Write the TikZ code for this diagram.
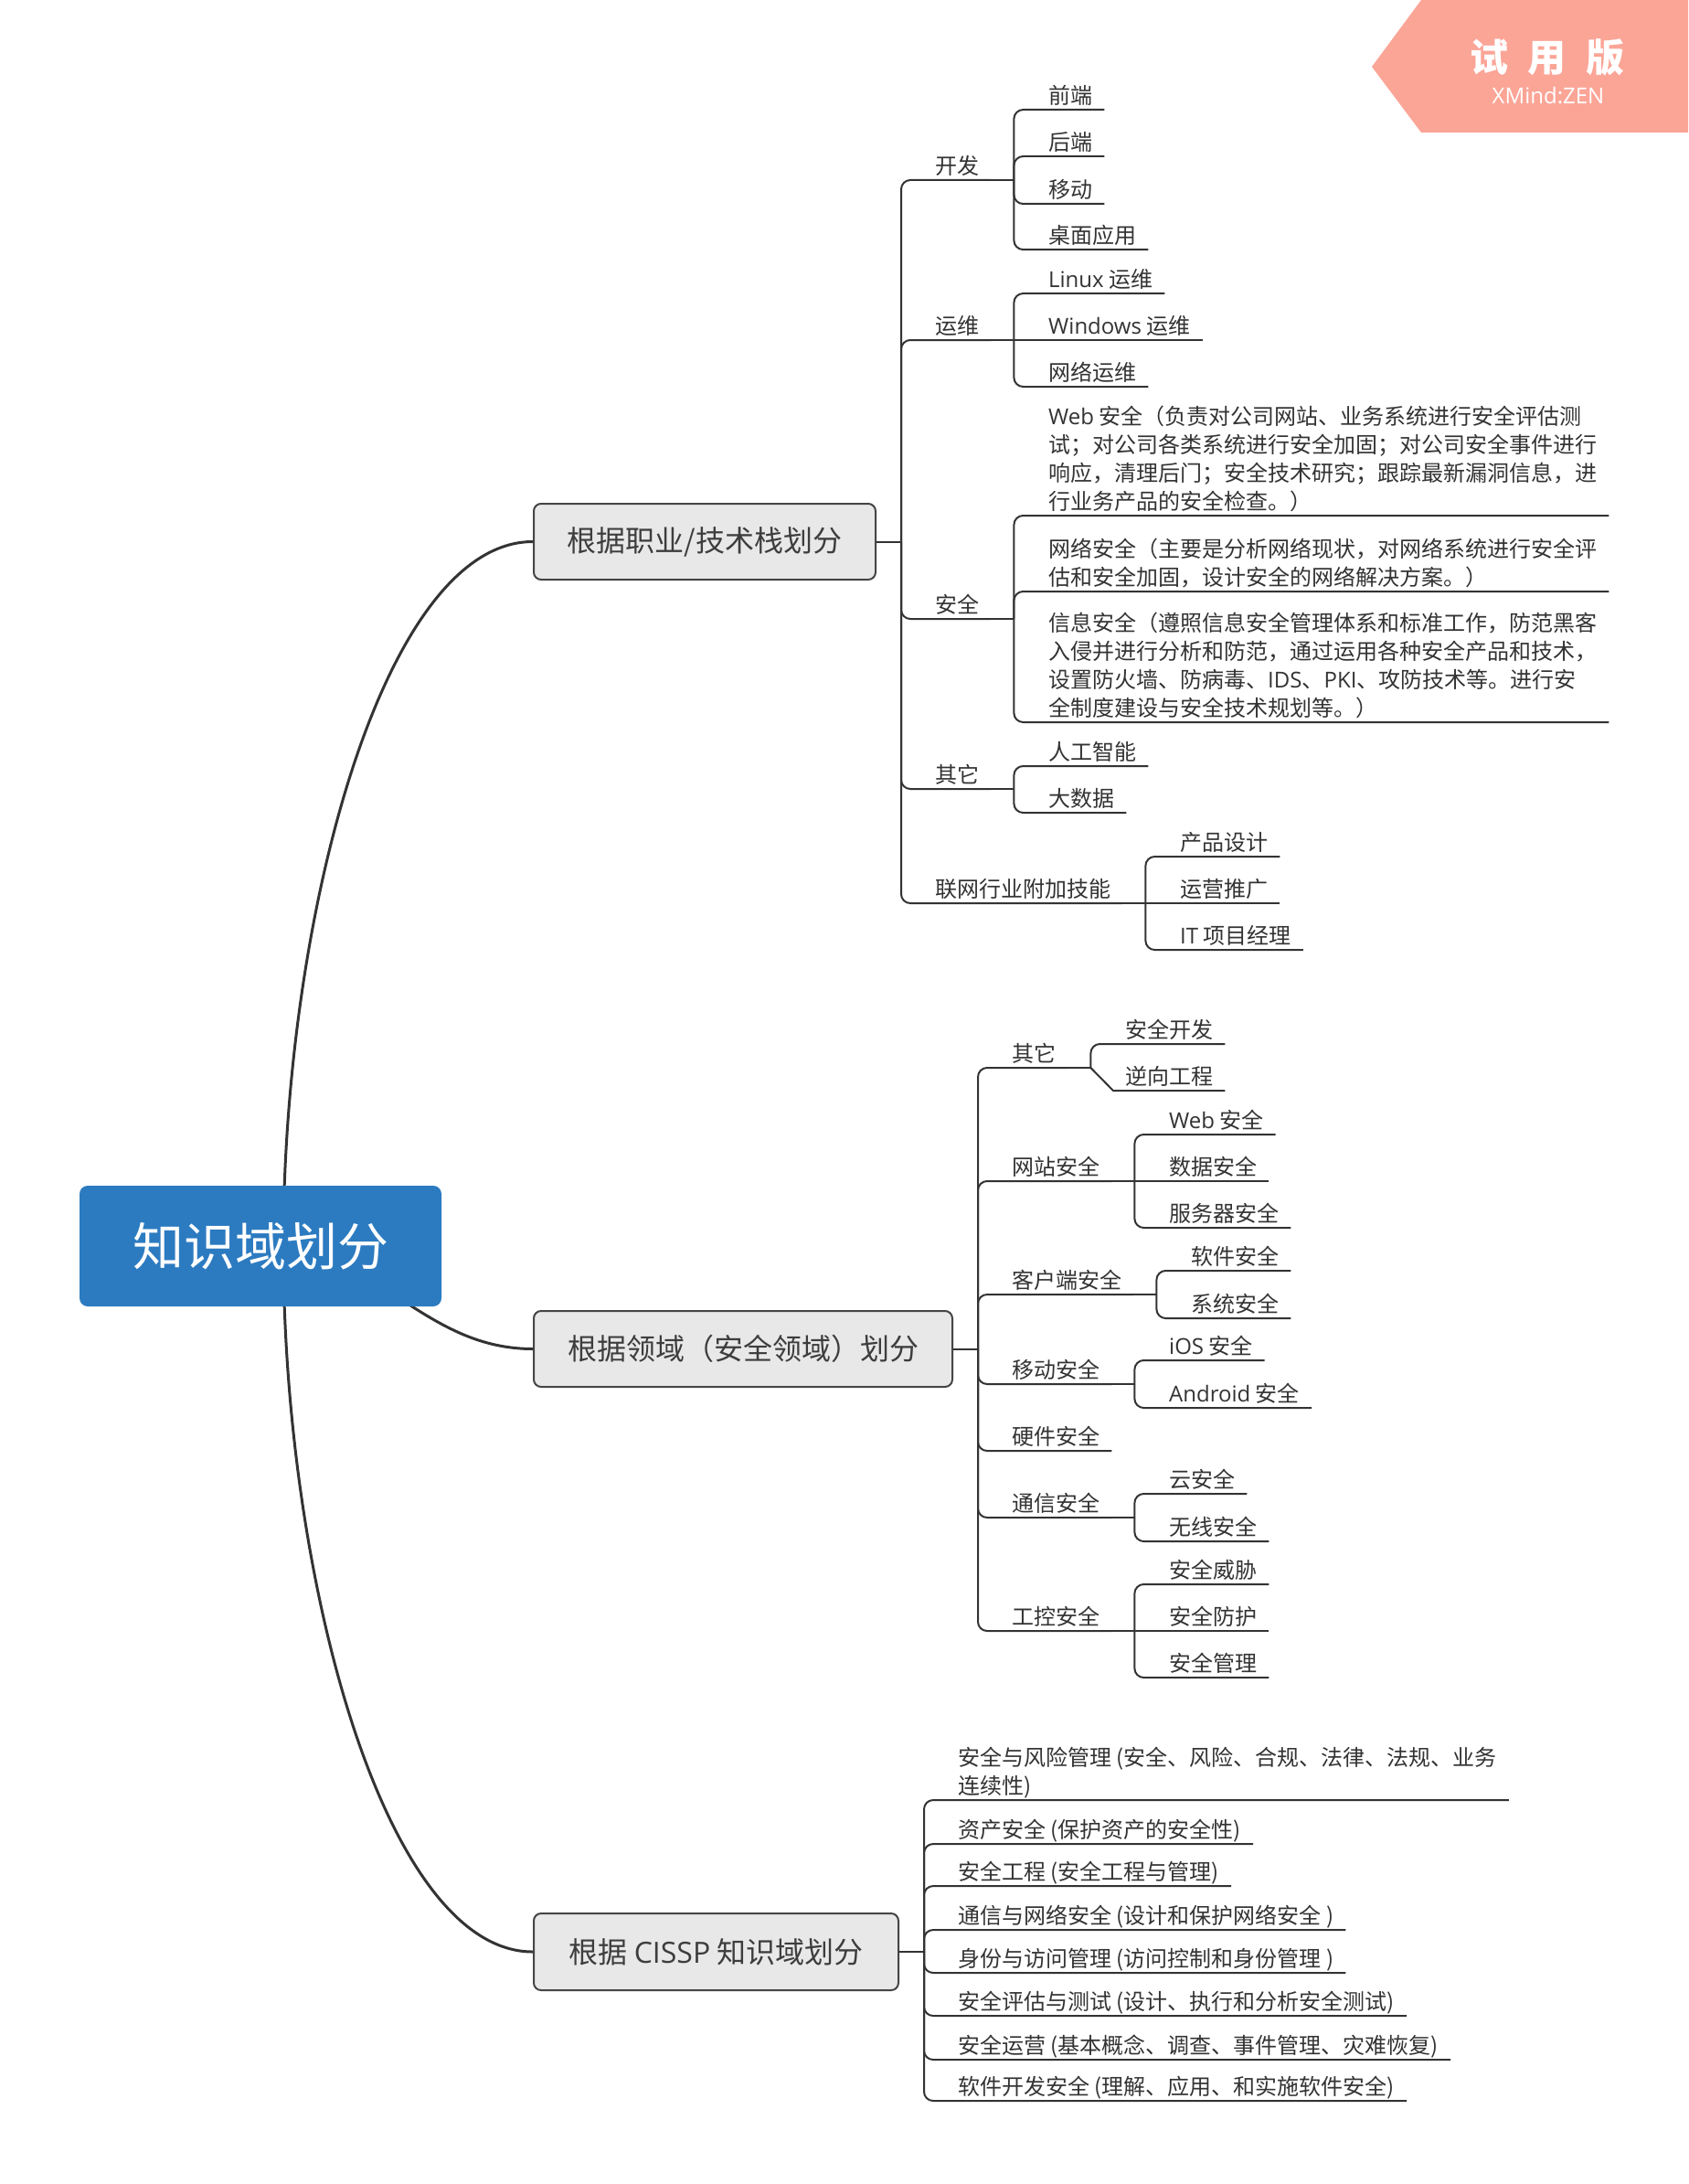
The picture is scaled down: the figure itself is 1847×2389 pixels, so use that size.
\documentclass[tikz,border=0pt]{standalone}
\usepackage{fontspec}
\setmainfont{Noto Sans CJK SC}
\newfontfamily\latinface{Open Sans}
\usetikzlibrary{backgrounds}

\definecolor{ink}{HTML}{333333}
\definecolor{boxtext}{HTML}{3D3D3D}
\definecolor{boxfill}{HTML}{E8E8E8}
\definecolor{boxline}{HTML}{454545}
\definecolor{rootblue}{HTML}{2C7BC1}
\definecolor{trialpink}{HTML}{FBA597}

\newcommand\en[1]{{\latinface #1}}
\newcommand\linestrut{\rule[-6pt]{0pt}{18pt}}

\tikzset{
  topic/.style={anchor=south west, inner xsep=13pt, inner ysep=0pt,
    font=\fontsize{24}{31}\selectfont, text=ink, align=left,
    execute at end node=\linestrut},
  elbow/.style={draw=ink, line width=2pt, rounded corners=10pt},
  stem/.style={draw=ink, line width=2pt},
  mainbox/.style={draw=boxline, line width=2pt, fill=boxfill, rounded corners=8pt,
    inner sep=0pt, minimum height=83pt, text=boxtext, font=\fontsize{32}{38}\selectfont},
  rootbox/.style={fill=rootblue, rounded corners=9pt, inner sep=0pt,
    minimum width=396pt, minimum height=132pt, text=white, font=\fontsize{56}{60}\selectfont},
  spoke/.style={draw=ink, line width=3pt},
}

\begin{document}
\begin{tikzpicture}[x=1pt,y=-1pt]
\useasboundingbox (0,0) rectangle (1847,2389);

% trial ribbon
\fill[trialpink] (1501,73) -- (1555,0) -- (1847,0) -- (1847,145) -- (1555,145) -- cycle;
\node[anchor=base, text=white, font=\fontsize{42}{42}\selectfont\bfseries, inner sep=0pt] (trial) at (1693,79) {试\hspace{22pt}用\hspace{22pt}版};
\node[anchor=base, text=white, font=\fontsize{24}{24}\latinface, inner sep=0pt] (brand) at (1694,114) {XMind:ZEN};

% central topic and main topics
\node[rootbox] (root) at (285,1363) {知识域划分};
\node[mainbox, minimum width=374pt] (b1) at (771,592.5) {根据职业/技术栈划分};
\node[mainbox, minimum width=458pt] (b2) at (813,1475.5) {根据领域（安全领域）划分};
\node[mainbox, minimum width=399pt, minimum height=84pt] (b3) at (783.5,2135) {根据 \en{CISSP} 知识域划分};

\begin{scope}[on background layer]
  \fill[white] (0,0) rectangle (1847,2389);
  \coordinate (hub) at ([xshift=25pt]root.center);
  \draw[spoke] (hub) .. controls (310,1000) and (420,592.5) .. (b1.west);
  \draw[spoke] (hub) .. controls (420,1380) and (470,1475.5) .. (b2.west);
  \draw[spoke] (hub) .. controls (310,1726) and (420,2135) .. (b3.west);
\end{scope}

% ---------- by career / tech stack ----------
\draw[stem] (b1.east) -- ++(27,0) coordinate (t1);
\node[topic] (kf)  at (1010,197) {开发};
\node[topic] (yw)  at (1010,372) {运维};
\node[topic] (aq)  at (1010,677) {安全};
\node[topic] (qt1) at (1010,863) {其它};
\node[topic] (lw)  at (1010,988) {联网行业附加技能};
\foreach \n in {kf,yw,aq,qt1,lw} {
  \draw[elbow] (t1) |- (\n.south west) -- (\n.south east);
  \draw[stem] (\n.south east) -- ++(25,0) coordinate (\n-j);
}

\node[topic] (qd)  at (1134,120) {前端};
\node[topic] (hd)  at (1134,171) {后端};
\node[topic] (yd1) at (1134,223) {移动};
\node[topic] (zm)  at (1134,273) {桌面应用};
\foreach \n in {qd,hd,yd1,zm} \draw[elbow] (kf-j) |- (\n.south west) -- (\n.south east);

\node[topic] (lx)  at (1134,321) {\en{Linux} 运维};
\node[topic] (win) at (1134,372) {\en{Windows} 运维};
\node[topic] (wl)  at (1134,423) {网络运维};
\draw[elbow] (yw-j) |- (lx.south west) -- (lx.south east);
\draw[stem] (yw-j) -- (win.south west) -- (win.south east);
\draw[elbow] (yw-j) |- (wl.south west) -- (wl.south east);

\node[topic] (webp) at (1134,564) {\en{Web} 安全（负责对公司网站、业务系统进行安全评估测\\试；对公司各类系统进行安全加固；对公司安全事件进行\\响应，清理后门；安全技术研究；跟踪最新漏洞信息，进\\行业务产品的安全检查。）};
\node[topic] (netp) at (1134,647) {网络安全（主要是分析网络现状，对网络系统进行安全评\\估和安全加固，设计安全的网络解决方案。）};
\node[topic] (infop) at (1134,790) {信息安全（遵照信息安全管理体系和标准工作，防范黑客\\入侵并进行分析和防范，通过运用各种安全产品和技术，\\设置防火墙、防病毒、\en{IDS}、\en{PKI}、攻防技术等。进行安\\全制度建设与安全技术规划等。）};
\foreach \n in {webp,netp,infop} \draw[elbow] (aq-j) |- (\n.south west) -- (\n.south east);

\node[topic] (ai) at (1134,838) {人工智能};
\node[topic] (bd) at (1134,889) {大数据};
\foreach \n in {ai,bd} \draw[elbow] (qt1-j) |- (\n.south west) -- (\n.south east);

\node[topic] (cp) at (1278,937) {产品设计};
\node[topic] (yy) at (1278,988) {运营推广};
\node[topic] (it) at (1278,1039) {\en{IT} 项目经理};
\draw[elbow] (lw-j) |- (cp.south west) -- (cp.south east);
\draw[stem] (lw-j) -- (yy.south west) -- (yy.south east);
\draw[elbow] (lw-j) |- (it.south west) -- (it.south east);

% ---------- by security domain ----------
\draw[stem] (b2.east) -- ++(27,0) coordinate (t2);
\node[topic] (qt2)  at (1094,1168) {其它};
\node[topic] (wz)   at (1094,1292) {网站安全};
\node[topic] (khd)  at (1094,1416) {客户端安全};
\node[topic] (ydaq) at (1094,1514) {移动安全};
\node[topic] (yj)   at (1094,1587) {硬件安全};
\node[topic] (tx)   at (1094,1660) {通信安全};
\node[topic] (gk)   at (1094,1784) {工控安全};
\foreach \n in {qt2,wz,khd,ydaq,yj,tx,gk}
  \draw[elbow] (t2) |- (\n.south west) -- (\n.south east);
\foreach \n in {qt2,wz,khd,ydaq,tx,gk}
  \draw[stem] (\n.south east) -- ++(25,0) coordinate (\n-j);

\node[topic] (aqkf) at (1218,1142) {安全开发};
\node[topic] (nx)   at (1218,1193) {逆向工程};
\draw[elbow] (qt2-j) |- (aqkf.south west) -- (aqkf.south east);
\draw[stem] (qt2-j) -- (nx.south west) -- (nx.south east);

\node[topic] (webaq) at (1266,1241) {\en{Web} 安全};
\node[topic] (sj)    at (1266,1292) {数据安全};
\node[topic] (fwq)   at (1266,1343) {服务器安全};
\draw[elbow] (wz-j) |- (webaq.south west) -- (webaq.south east);
\draw[stem] (wz-j) -- (sj.south west) -- (sj.south east);
\draw[elbow] (wz-j) |- (fwq.south west) -- (fwq.south east);

\node[topic] (rj) at (1290,1390) {软件安全};
\node[topic] (xt) at (1290,1442) {系统安全};
\foreach \n in {rj,xt} \draw[elbow] (khd-j) |- (\n.south west) -- (\n.south east);

\node[topic] (ios) at (1266,1488) {\en{iOS} 安全};
\node[topic] (adr) at (1266,1540) {\en{Android} 安全};
\foreach \n in {ios,adr} \draw[elbow] (ydaq-j) |- (\n.south west) -- (\n.south east);

\node[topic] (yun) at (1266,1634) {云安全};
\node[topic] (wxa) at (1266,1686) {无线安全};
\foreach \n in {yun,wxa} \draw[elbow] (tx-j) |- (\n.south west) -- (\n.south east);

\node[topic] (ws) at (1266,1733) {安全威胁};
\node[topic] (fh) at (1266,1784) {安全防护};
\node[topic] (gl) at (1266,1835) {安全管理};
\draw[elbow] (gk-j) |- (ws.south west) -- (ws.south east);
\draw[stem] (gk-j) -- (fh.south west) -- (fh.south east);
\draw[elbow] (gk-j) |- (gl.south west) -- (gl.south east);

% ---------- by CISSP domains ----------
\draw[stem] (b3.east) -- ++(27,0) coordinate (t3);
\node[topic] (c1) at (1035,1969) {安全与风险管理 (安全、风险、合规、法律、法规、业务\\连续性)};
\node[topic] (c2) at (1035,2017) {资产安全 (保护资产的安全性)};
\node[topic] (c3) at (1035,2063) {安全工程 (安全工程与管理)};
\node[topic] (c4) at (1035,2111) {通信与网络安全 (设计和保护网络安全 )};
\node[topic] (c5) at (1035,2158) {身份与访问管理 (访问控制和身份管理 )};
\node[topic] (c6) at (1035,2205) {安全评估与测试 (设计、执行和分析安全测试)};
\node[topic] (c7) at (1035,2253) {安全运营 (基本概念、调查、事件管理、灾难恢复)};
\node[topic] (c8) at (1035,2298) {软件开发安全 (理解、应用、和实施软件安全)};
\foreach \n in {c1,c2,c3,c4,c5,c6,c7,c8}
  \draw[elbow] (t3) |- (\n.south west) -- (\n.south east);

\end{tikzpicture}
\end{document}
